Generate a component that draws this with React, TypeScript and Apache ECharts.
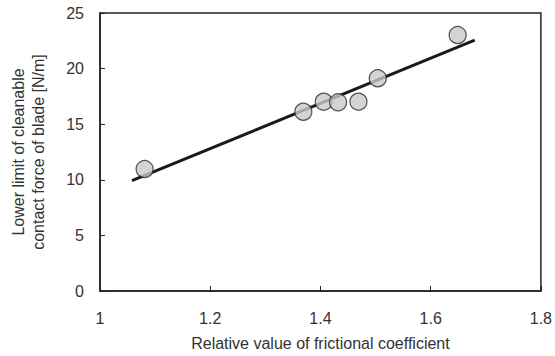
import React, { useEffect, useRef } from "react";
import * as echarts from "echarts";

const frictionX = [1.081, 1.369, 1.406, 1.432, 1.469, 1.504, 1.649];
const forceY = [10.97, 16.12, 17.02, 16.97, 17.02, 19.13, 23.02];
const fitX = [1.058, 1.68];
const fitY = [9.92, 22.57];
const xTicks = { min: 1, max: 1.8, interval: 0.2 };
const yTicks = { min: 0, max: 25, interval: 5 };

export default function App() {
  const ref = useRef<HTMLDivElement>(null);
  useEffect(() => {
    if (!ref.current) return;
    const chart = echarts.init(ref.current, null, { renderer: "svg" });
    const font = "Liberation Sans, Arial, sans-serif";
    const textColor = "#333";
    chart.setOption({
      animation: false,
      backgroundColor: "#fff",
      grid: {
        left: 94,
        top: 13,
        right: 13,
        bottom: 65,
        show: true,
        borderColor: "#222",
        borderWidth: 1.5,
        backgroundColor: "transparent",
      },
      xAxis: {
        type: "value",
        min: xTicks.min,
        max: xTicks.max,
        interval: xTicks.interval,
        name: "Relative value of frictional coefficient",
        nameLocation: "middle",
        nameGap: 44,
        nameTextStyle: { fontFamily: font, fontSize: 16, color: textColor },
        axisLine: { show: true, lineStyle: { color: "#222", width: 1.5 } },
        axisTick: { show: true, inside: true, length: 5, lineStyle: { color: "#222", width: 1 } },
        axisLabel: {
          fontFamily: font,
          fontSize: 16,
          color: textColor,
          margin: 19,
          formatter: (v: number) => String(Math.round(v * 10) / 10),
        },
        splitLine: { show: false },
      },
      yAxis: {
        type: "value",
        min: yTicks.min,
        max: yTicks.max,
        interval: yTicks.interval,
        name: "Lower limit of cleanable\ncontact force of blade [N/m]",
        nameLocation: "middle",
        nameRotate: 90,
        nameGap: 52,
        nameTextStyle: { fontFamily: font, fontSize: 16, color: textColor, lineHeight: 20 },
        axisLine: { show: true, lineStyle: { color: "#222", width: 1.5 } },
        axisTick: { show: true, inside: true, length: 5, lineStyle: { color: "#222", width: 1 } },
        axisLabel: { fontFamily: font, fontSize: 16, color: textColor, margin: 16 },
        splitLine: { show: false },
      },
      series: [
        {
          type: "line",
          data: fitX.map((x, i) => [x, fitY[i]]),
          showSymbol: false,
          symbol: "none",
          lineStyle: { color: "#1a1a1a", width: 3 },
          z: 2,
        },
        {
          type: "scatter",
          data: frictionX.map((x, i) => [x, forceY[i]]),
          symbol: "circle",
          symbolSize: 17,
          itemStyle: { color: "#c8c9cb", borderColor: "#2a2a2a", borderWidth: 1.2 },
          z: 3,
        },
      ],
    });
    return () => chart.dispose();
  }, []);
  return (
    <div
      ref={ref}
      style={{ position: "fixed", left: 0, top: 0, width: 555, height: 356 }}
    />
  );
}
